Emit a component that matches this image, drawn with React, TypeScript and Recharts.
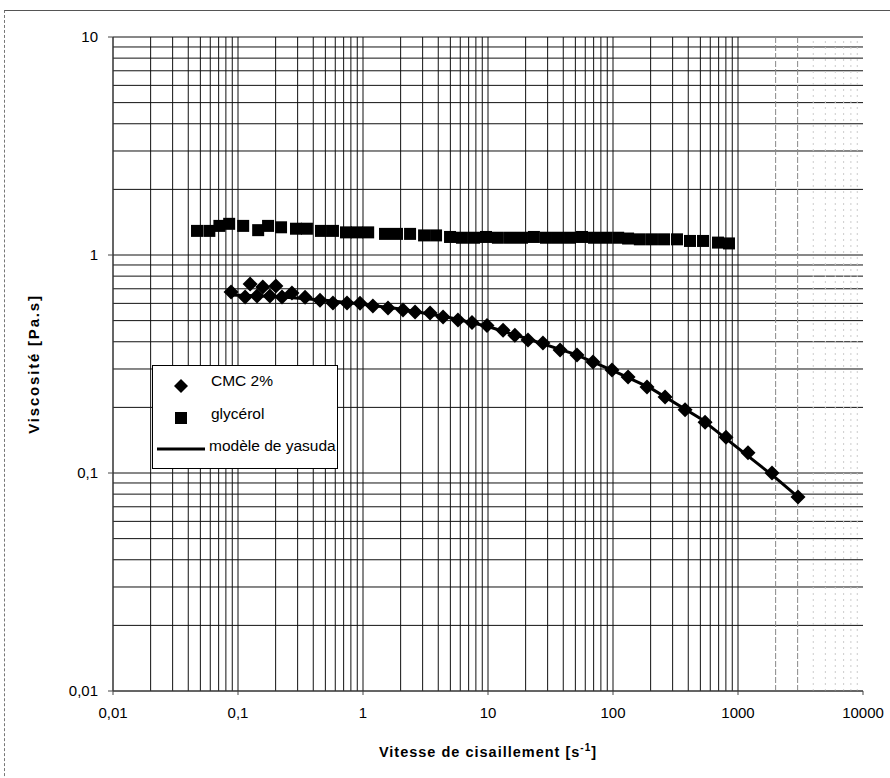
import { ScatterChart, Scatter, XAxis, YAxis, Legend, ReferenceLine } from 'recharts';

// axes
const xTicks = [0.01, 0.1, 1, 10, 100, 1000, 10000];
const yTicks = [0.01, 0.1, 1, 10];
const minorSteps = [1, 2, 3, 4, 5, 6, 7, 8, 9];
const xGridDecades = [0.01, 0.1, 1, 10, 100];
const yGridDecades = [0.01, 0.1, 1];
const xFaintGrid = [2000, 3000, 4000, 5000, 6000, 7000, 8000, 9000];

// glycérol (squares)
const glyShear = [0.047, 0.059, 0.071, 0.085, 0.11, 0.145, 0.174, 0.221, 0.291, 0.356, 0.461, 0.575, 0.731, 0.895, 1.1, 1.5, 1.87, 2.38, 3.08, 3.84, 4.97, 6.19, 7.73, 9.64, 12.0, 15.0, 18.7, 23.3, 29.1, 36.3, 45.3, 56.5, 70.5, 87.9, 110, 132, 164, 205, 256, 325, 413, 525, 692, 847];
const glyVisc = [1.29, 1.29, 1.36, 1.39, 1.36, 1.3, 1.36, 1.34, 1.32, 1.32, 1.29, 1.29, 1.27, 1.27, 1.27, 1.25, 1.25, 1.25, 1.23, 1.23, 1.21, 1.2, 1.2, 1.21, 1.2, 1.2, 1.2, 1.21, 1.2, 1.2, 1.2, 1.21, 1.2, 1.2, 1.2, 1.19, 1.18, 1.18, 1.18, 1.18, 1.16, 1.16, 1.14, 1.13];

// CMC 2% (diamonds)
const cmcShear = [0.088, 0.114, 0.142, 0.18, 0.225, 0.27, 0.344, 0.453, 0.575, 0.745, 0.946, 1.2, 1.585, 2.09, 2.61, 3.44, 4.37, 5.75, 7.45, 9.82, 13.2, 16.4, 20.9, 27.5, 37.7, 51.5, 69.2, 98.2, 132, 187, 261, 377, 545, 802, 1202, 1871, 3020];
const cmcVisc = [0.676, 0.642, 0.648, 0.648, 0.642, 0.67, 0.64, 0.62, 0.602, 0.602, 0.6, 0.583, 0.571, 0.56, 0.548, 0.542, 0.52, 0.503, 0.49, 0.475, 0.452, 0.428, 0.407, 0.395, 0.367, 0.348, 0.323, 0.297, 0.276, 0.248, 0.223, 0.195, 0.171, 0.146, 0.124, 0.1, 0.0776];
const cmcUpShear = [0.125, 0.158, 0.201];
const cmcUpVisc = [0.736, 0.713, 0.721];

// modèle de Yasuda (line)
const yasudaShear = [0.088, 0.2, 0.5, 1, 2, 5, 10, 20, 50, 100, 200, 500, 1000, 2000, 3000];
const yasudaVisc = [0.655, 0.645, 0.62, 0.595, 0.565, 0.515, 0.47, 0.415, 0.35, 0.295, 0.245, 0.178, 0.13, 0.095, 0.078];

const xGrid = [...xGridDecades.flatMap((d) => minorSteps.map((m) => Number((d * m).toPrecision(3)))), 1000];
const yGrid = [...yGridDecades.flatMap((d) => minorSteps.map((m) => Number((d * m).toPrecision(3)))), 10];

const glycerol = glyShear.map((x, i) => ({ x, y: glyVisc[i] }));
const cmc = [...cmcShear.map((x, i) => ({ x, y: cmcVisc[i] })), ...cmcUpShear.map((x, i) => ({ x, y: cmcUpVisc[i] }))];
const yasuda = yasudaShear.map((x, i) => ({ x, y: yasudaVisc[i] }));

const FONT = '"Liberation Sans", Arial, sans-serif';
const fmt = (v: number) => String(v).replace('.', ',');

const Diamond = (props: any) => {
  const { cx, cy } = props;
  const r = 7.5;
  return <polygon points={`${cx},${cy - r} ${cx + r},${cy} ${cx},${cy + r} ${cx - r},${cy}`} fill="#000" />;
};

const Square = (props: any) => {
  const { cx, cy } = props;
  return <rect x={cx - 6} y={cy - 6} width={12} height={12} fill="#000" />;
};

const NoDot = () => <g />;

const LegendBox = () => (
  <svg width={186} height={104} style={{ display: 'block' }}>
    <rect x={0.5} y={0.5} width={185} height={103} fill="#fff" stroke="#000" />
    <polygon points="29,14 36,21 29,28 22,21" fill="#000" />
    <text x={59} y={21} fontSize={15.5} fontFamily={FONT}>CMC 2%</text>
    <rect x={23} y={47} width={12} height={12} fill="#000" />
    <text x={59} y={54} fontSize={15.5} fontFamily={FONT}>glycérol</text>
    <line x1={5} y1={84} x2={53} y2={84} stroke="#000" strokeWidth={3} />
    <text x={57} y={86} fontSize={15.5} fontFamily={FONT}>modèle de yasuda</text>
  </svg>
);

export default function App() {
  return (
    <div style={{ position: 'absolute', left: 0, top: 0, width: 890, height: 778, background: '#fff', overflow: 'hidden' }}>
      <div style={{ position: 'absolute', left: 4, top: 10, width: 900, height: 800, borderTop: '1px solid #555', borderLeft: '1px dashed #777' }} />
      <ScatterChart width={890} height={778} margin={{ top: 37, right: 27, bottom: 47, left: 53 }} style={{ position: 'absolute', left: 0, top: 0 }}>
        {xGrid.map((v) => (
          <ReferenceLine key={`x${v}`} x={v} stroke="#111" strokeWidth={1} />
        ))}
        {yGrid.map((v) => (
          <ReferenceLine key={`y${v}`} y={v} stroke="#111" strokeWidth={1} />
        ))}
        {xFaintGrid.map((v, i) => (
          <ReferenceLine key={`f${v}`} x={v} stroke={i < 2 ? '#888' : '#ccc'} strokeDasharray={i < 2 ? '6 2' : '2 4'} />
        ))}
        <XAxis
          dataKey="x"
          type="number"
          scale="log"
          domain={[0.01, 10000]}
          ticks={xTicks}
          allowDataOverflow
          height={40}
          tickSize={4}
          tickMargin={12}
          tickFormatter={fmt}
          stroke="#444"
          tick={{ fill: '#000', fontSize: 15, fontFamily: FONT }}
          label={{
            content: (p: any) => {
              const vb = p.viewBox;
              return (
                <text x={vb.x + vb.width / 2} y={vb.y + 66} textAnchor="middle" fontSize={14.5} fontWeight="bold" fontFamily={FONT} letterSpacing={1}>
                  Vitesse de cisaillement [s<tspan dy={-6} fontSize={10}>-1</tspan><tspan dy={6}>]</tspan>
                </text>
              );
            },
          }}
        />
        <YAxis
          dataKey="y"
          type="number"
          scale="log"
          domain={[0.01, 10]}
          ticks={yTicks}
          allowDataOverflow
          width={60}
          tickSize={5}
          tickMargin={10}
          tickFormatter={fmt}
          stroke="#444"
          tick={{ fill: '#000', fontSize: 15, fontFamily: FONT }}
          label={{
            content: (p: any) => {
              const vb = p.viewBox;
              const x = vb.x - 14;
              const y = vb.y + vb.height / 2;
              return (
                <text x={x} y={y} transform={`rotate(-90 ${x} ${y})`} textAnchor="middle" fontSize={15} fontWeight="bold" fontFamily={FONT} letterSpacing={1.8}>
                  Viscosité [Pa.s]
                </text>
              );
            },
          }}
        />
        <Legend
          layout="vertical"
          align="center"
          verticalAlign="middle"
          content={() => <LegendBox />}
          wrapperStyle={{ left: 152, top: 365, width: 186, height: 104 }}
        />
        <Scatter name="modèle de yasuda" data={yasuda} line={{ stroke: '#000', strokeWidth: 3 }} lineType="joint" shape={NoDot} isAnimationActive={false} />
        <Scatter name="glycérol" data={glycerol} shape={Square} isAnimationActive={false} />
        <Scatter name="CMC 2%" data={cmc} shape={Diamond} isAnimationActive={false} />
      </ScatterChart>
    </div>
  );
}
